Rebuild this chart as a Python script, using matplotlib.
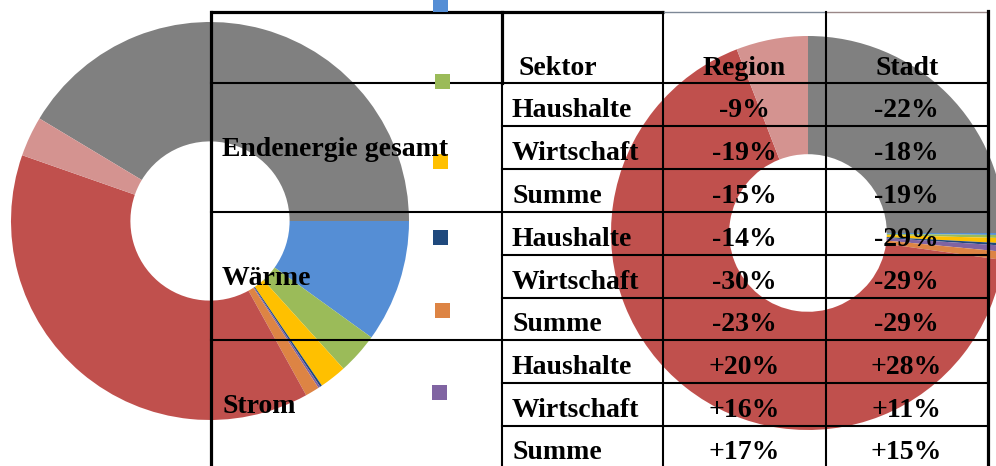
import matplotlib
matplotlib.use("Agg")
import matplotlib.pyplot as plt

# ---------------- data ----------------
groups = ["Endenergie gesamt", "Wärme", "Strom"]
sectors = ["Haushalte", "Wirtschaft", "Summe"] * 3
header = ["Sektor", "Region", "Stadt"]
region = ["-9%", "-19%", "-15%", "-14%", "-30%", "-23%", "+20%", "+16%", "+17%"]
stadt = ["-22%", "-18%", "-19%", "-29%", "-29%", "-29%", "+28%", "+11%", "+15%"]

slice_names = ["grau", "blau", "grün", "gelb", "dunkelblau", "lila", "orange", "rot", "rosa"]
left_shares = [149, 35.8, 12.1, 7.9, 0.6, 0.6, 4.1, 138.2, 11.7]
right_shares = [90, 0.6, 0.9, 1.5, 0.7, 1.8, 2.4, 240.9, 21.2]

slice_colors = ["#808080", "#558ED5", "#9BBB59", "#FFC000", "#1F497D",
                "#8064A2", "#DD8444", "#C0504D", "#D49390"]
legend_colors = ["#558ED5", "#9BBB59", "#FFC000", "#1F497D", "#DD8444", "#8064A2"]

# ---------------- layout ----------------
W, H = 996, 466
fig = plt.figure(figsize=(W / 100, H / 100), dpi=100)

def donut(cx, cy, r, shares, start):
    ax = fig.add_axes([(cx - r) / W, (H - cy - r) / H, 2 * r / W, 2 * r / H])
    ax.pie(shares, colors=slice_colors, startangle=start, counterclock=False,
           radius=1, wedgeprops=dict(width=0.6, linewidth=0))
    ax.set_xlim(-1, 1)
    ax.set_ylim(-1, 1)
    ax.set_aspect("equal")
    ax.axis("off")
    ax.set_zorder(1)
    return ax

donut(210, 221, 199, left_shares, 149)
donut(808, 233, 197, right_shares, 90)

ov = fig.add_axes([0, 0, 1, 1])
ov.set_xlim(0, W)
ov.set_ylim(H, 0)
ov.axis("off")
ov.set_zorder(5)
ov.patch.set_alpha(0)

xL, xC1, xC2, xC3, xR = 211, 502, 663, 826, 988
ys = [12, 83, 126, 169, 212, 255, 298, 340, 383, 426, 468]

thick, thin = 2.3, 1.5
# top border
ov.plot([xL - 1, xC2 + 1], [ys[0], ys[0]], color="black", lw=thick, solid_capstyle="butt")
ov.plot([xC2, xC3], [ys[0], ys[0]], color="#7d8896", lw=1.0)
ov.plot([xC3, xR], [ys[0], ys[0]], color="#9a8888", lw=1.0)
# verticals
ov.plot([xL, xL], [ys[0], H + 2], color="black", lw=thick)
ov.plot([xC1, xC1], [ys[0], ys[1]], color="black", lw=thick)
ov.plot([xC1, xC1], [ys[1], H + 2], color="black", lw=thin)
ov.plot([xC2, xC2], [ys[0], H + 2], color="black", lw=thin)
ov.plot([xC3, xC3], [ys[0], H + 2], color="black", lw=thin)
ov.plot([xR, xR], [ys[0] - 1, H + 2], color="black", lw=thick)
# horizontals
for i, y in enumerate(ys[1:-1], start=1):
    x0 = xL if i in (1, 4, 7) else xC1
    ov.plot([x0, xR], [y, y], color="black", lw=thin)

font = dict(family="Liberation Serif", weight="bold", size=20, color="black")

ov.text(xC1 + 16, ys[1] - 8, header[0], ha="left", va="baseline", **font)
ov.text((xC2 + xC3) / 2, ys[1] - 8, header[1], ha="center", va="baseline", **font)
ov.text((xC3 + xR) / 2, ys[1] - 8, header[2], ha="center", va="baseline", **font)

for g, name in enumerate(groups):
    top, bot = ys[1 + 3 * g], ys[4 + 3 * g]
    ov.text(xL + 11, (top + bot) / 2 + 9, name, ha="left", va="baseline", **font)

for i in range(9):
    base = ys[i + 2] - 9
    ov.text(xC1 + 10, base, sectors[i], ha="left", va="baseline", **font)
    ov.text((xC2 + xC3) / 2, base, region[i], ha="center", va="baseline", **font)
    ov.text((xC3 + xR) / 2 - 1, base, stadt[i], ha="center", va="baseline", **font)

# legend markers (labels not shown in the original)
leg_x = [440, 442, 440, 440, 442, 439]
leg_y = [3.5, 81, 161, 237, 310, 392]
for c, x, y in zip(legend_colors, leg_x, leg_y):
    ov.plot([x], [y], marker="s", markersize=10.8, color=c, markeredgewidth=0, linestyle="none")

fig.savefig("out.png", dpi=100)
